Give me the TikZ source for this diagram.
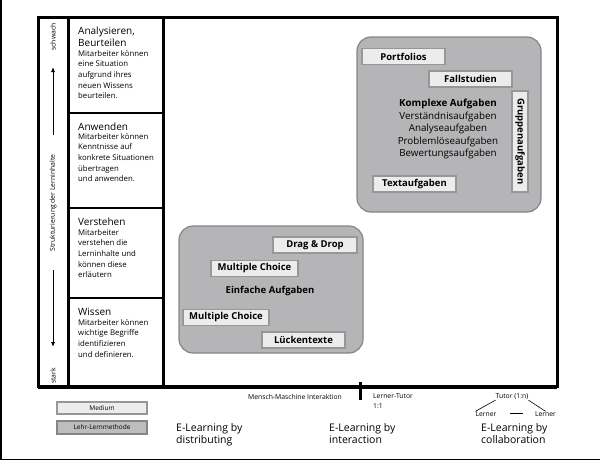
\documentclass[tikz,border=0pt]{standalone}
\usepackage{fontspec}
\setmainfont{Open Sans}
\usetikzlibrary{arrows.meta}
\definecolor{boxgray}{HTML}{B5B5B7}
\definecolor{boxedge}{HTML}{858587}
\definecolor{lightfill}{HTML}{ECECEC}
\definecolor{lightedge}{HTML}{979797}
\definecolor{methodfill}{HTML}{BDBDBF}
\tikzset{
  frame/.style={line width=3pt, draw=black},
  divider/.style={line width=2pt, draw=black},
  bigbox/.style={draw=boxedge, fill=boxgray, line width=1.2pt, rounded corners=14pt, inner sep=0pt},
  mbox/.style={draw=lightedge, fill=lightfill, line width=1.5pt, inner sep=0pt, minimum height=16pt,
    font=\fontsize{9.5}{11}\selectfont\bfseries},
  heading/.style={anchor=west, inner sep=0pt, font=\fontsize{10}{11}\selectfont},
  body/.style={anchor=north west, inner sep=0pt, align=left, font=\fontsize{7.8}{10.7}\selectfont},
  axislabel/.style={rotate=90, inner sep=0pt, font=\fontsize{6.8}{8}\selectfont},
  axisarrow/.style={line width=0.8pt, -{Latex[length=5pt,width=4pt]}},
  tasklist/.style={inner sep=0pt, font=\fontsize{9.8}{12.5}\selectfont, align=center},
  small/.style={inner sep=0pt, font=\fontsize{6.8}{11}\selectfont},
  elabel/.style={anchor=north west, inner sep=0pt, align=left, font=\fontsize{10.5}{12}\selectfont},
  legend/.style={line width=1.2pt, inner sep=0pt, minimum width=90pt, font=\fontsize{6.5}{8}\selectfont}
}
\begin{document}
\begin{tikzpicture}[x=1pt,y=-1pt]
\useasboundingbox (0,0) rectangle (600,461);
% page border
\draw[line width=1.2pt] (1,0) -- (1,459.5) -- (600,459.5);

% main frame
\draw[frame] (38,17) rectangle (557,386);
\draw[frame] (68,17) -- (68,386);
\draw[frame] (163,17) -- (163,386);
\draw[divider] (68,113) -- (163,113);
\draw[divider] (68,208) -- (163,208);
\draw[divider] (68,298) -- (163,298);
\draw[line width=3.5pt] (38,387) -- (557,387);
\draw[line width=3pt] (360,382) -- (360,400);

% left axis
\node[axislabel] (weak) at (53,37) {schwach};
\node[axislabel] (axis) at (53,203) {Strukturierung der Lerninhalte};
\node[axislabel] (strong) at (53,376) {stark};
\coordinate (upstart) at (53,135);
\coordinate (downstart) at (53,270);
\draw[axisarrow] (upstart) -- (53,67);
\draw[axisarrow] (downstart) -- (53,347);

% column texts
\node[heading] (h1) at (78,32) {Analysieren,};
\node[heading] (h1b) at (78,43) {Beurteilen};
\node[body] (b1) at (78,50) {Mitarbeiter können\\eine Situation\\aufgrund ihres\\neuen Wissens\\beurteilen.};
\node[heading] (h2) at (78,127) {Anwenden};
\node[body] (b2) at (78,133) {Mitarbeiter können\\Kenntnisse auf\\konkrete Situationen\\übertragen\\und anwenden.};
\node[heading] (h3) at (78,222) {Verstehen};
\node[body] (b3) at (78,229) {Mitarbeiter\\verstehen die\\Lerninhalte und\\können diese\\erläutern};
\node[heading] (h4) at (78,312) {Wissen};
\node[body] (b4) at (78,319) {Mitarbeiter können\\wichtige Begriffe\\identifizieren\\und definieren.};

% complex tasks
\node[bigbox, minimum width=184pt, minimum height=175pt] (complex) at (449,124.5) {};
\node[mbox, minimum width=83pt] (portfolios) at (403.5,56.5) {Portfolios};
\node[mbox, minimum width=83pt] (fall) at (470.5,79) {Fallstudien};
\node[mbox, minimum width=101pt, rotate=-90] (gruppe) at (520,141.5) {Gruppenaufgaben};
\node[mbox, minimum width=83pt] (text) at (414.5,184) {Textaufgaben};
\node[tasklist, anchor=north] (komplex) at (448,99) {\textbf{Komplexe Aufgaben}\\Verständnisaufgaben\\Analyseaufgaben\\Problemlöseaufgaben\\Bewertungsaufgaben};

% simple tasks
\node[bigbox, minimum width=184pt, minimum height=127pt] (simple) at (271,289.5) {};
\node[mbox, minimum width=84pt] (drag) at (315,245) {Drag \& Drop};
\node[mbox, minimum width=87pt] (mc1) at (254.5,268.5) {Multiple Choice};
\node[tasklist, font=\fontsize{9.5}{11}\selectfont\bfseries] (einfach) at (270,291) {Einfache Aufgaben};
\node[mbox, minimum width=86pt] (mc2) at (226,317.5) {Multiple Choice};
\node[mbox, minimum width=83pt] (lueck) at (303.5,340) {Lückentexte};

% bottom axis labels
\node[small] (mmi) at (295,397) {Mensch-Maschine Interaktion};
\node[small, anchor=north west, align=left, font=\fontsize{6.8}{10}\selectfont] (lt) at (373,393) {Lerner-Tutor\\1:1};
\node[small] (tutor) at (512,397) {Tutor (1:n)};
\node[small] (lernerL) at (486,414) {Lerner};
\node[small] (lernerR) at (545.5,414) {Lerner};
\draw[line width=0.6pt] (tutor.south west) -- (lernerL.north west);
\draw[line width=0.6pt] (tutor.south east) -- (lernerR.north);
\coordinate (midL) at (510,413);
\coordinate (midR) at (523,413);
\draw[line width=0.6pt] (midL) -- (midR);

% e-learning labels
\node[elabel] (dist) at (176,423) {E-Learning by\\distributing};
\node[elabel] (inter) at (329,423) {E-Learning by\\interaction};
\node[elabel] (coll) at (481,423) {E-Learning by\\collaboration};

% legend
\node[legend, draw=lightedge, fill=lightfill, minimum height=12pt] (medium) at (102,408) {Medium};
\node[legend, draw=boxedge, fill=methodfill, minimum height=13pt] (method) at (102,427.5) {Lehr-Lernmethode};
\end{tikzpicture}
\end{document}
